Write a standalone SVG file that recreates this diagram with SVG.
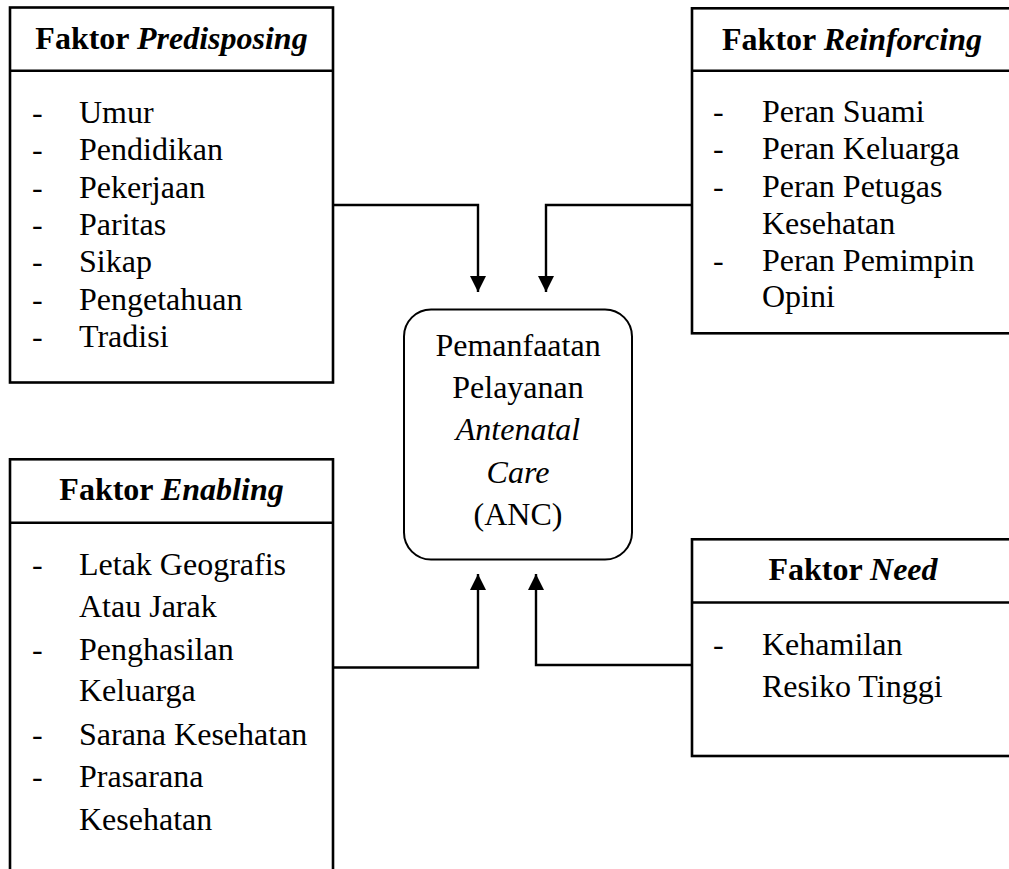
<svg xmlns="http://www.w3.org/2000/svg" width="1009" height="869" viewBox="0 0 1009 869">
<style>
.box{fill:#fff;stroke:#000;stroke-width:2.6}
.div{stroke:#000;stroke-width:2.6}
.t{font-family:"Liberation Serif","Times New Roman",serif;font-size:32px;fill:#000}
.h{font-weight:bold;text-anchor:middle}
.c{text-anchor:middle}
.i{font-style:italic}
.con{fill:none;stroke:#000;stroke-width:2.4}
</style>
<defs>
<marker id="arr" markerWidth="16" markerHeight="16" refX="16" refY="8" orient="auto" markerUnits="userSpaceOnUse" viewBox="0 0 16 16">
<path d="M0,0 L16,8 L0,16 Z" fill="#000"/>
</marker>
</defs>
<rect width="1009" height="869" fill="#fff"/>
<g id="connectors">
<polyline class="con" points="333,205 478,205 478,292" marker-end="url(#arr)"/>
<polyline class="con" points="692,205 546,205 546,292" marker-end="url(#arr)"/>
<polyline class="con" points="333,667.5 478,667.5 478,574" marker-end="url(#arr)"/>
<polyline class="con" points="692,665 536,665 536,574" marker-end="url(#arr)"/>
</g>
<g id="predisposing">
<rect class="box" x="10" y="7.5" width="323" height="375"/>
<line class="div" x1="10" y1="70.7" x2="333" y2="70.7"/>
<text class="t h" x="171.5" y="48.5">Faktor <tspan class="i">Predisposing</tspan></text>
<g class="t">
<text x="32" y="123">-</text><text x="79" y="123">Umur</text>
<text x="32" y="160.3">-</text><text x="79" y="160.3">Pendidikan</text>
<text x="32" y="197.6">-</text><text x="79" y="197.6">Pekerjaan</text>
<text x="32" y="235">-</text><text x="79" y="235">Paritas</text>
<text x="32" y="272">-</text><text x="79" y="272">Sikap</text>
<text x="32" y="309.5">-</text><text x="79" y="309.5">Pengetahuan</text>
<text x="32" y="347">-</text><text x="79" y="347">Tradisi</text>
</g>
</g>
<g id="reinforcing">
<rect class="box" x="692" y="8.3" width="330" height="325"/>
<line class="div" x1="692" y1="70.7" x2="1022" y2="70.7"/>
<text class="t h" x="852" y="50">Faktor <tspan class="i">Reinforcing</tspan></text>
<g class="t">
<text x="713" y="121.7">-</text><text x="762" y="121.7">Peran Suami</text>
<text x="713" y="159">-</text><text x="762" y="159">Peran Keluarga</text>
<text x="713" y="196.5">-</text><text x="762" y="196.5">Peran Petugas</text>
<text x="762" y="233.5">Kesehatan</text>
<text x="713" y="271">-</text><text x="762" y="271">Peran Pemimpin</text>
<text x="762" y="307">Opini</text>
</g>
</g>
<g id="anc">
<rect class="box" x="404" y="309.5" width="228" height="250" rx="27" ry="27" style="stroke-width:2"/>
<text class="t c" x="518" y="356">Pemanfaatan</text>
<text class="t c" x="518" y="398">Pelayanan</text>
<text class="t c i" x="518" y="440">Antenatal</text>
<text class="t c i" x="518" y="482.5">Care</text>
<text class="t c" x="518" y="525">(ANC)</text>
</g>
<g id="enabling">
<rect class="box" x="10" y="459.3" width="323" height="420"/>
<line class="div" x1="10" y1="522.7" x2="333" y2="522.7"/>
<text class="t h" x="171.5" y="500">Faktor <tspan class="i">Enabling</tspan></text>
<g class="t">
<text x="32" y="575">-</text><text x="79" y="575">Letak Geografis</text>
<text x="79" y="617">Atau Jarak</text>
<text x="32" y="660">-</text><text x="79" y="660">Penghasilan</text>
<text x="79" y="701">Keluarga</text>
<text x="32" y="745">-</text><text x="79" y="745">Sarana Kesehatan</text>
<text x="32" y="787">-</text><text x="79" y="787">Prasarana</text>
<text x="79" y="830">Kesehatan</text>
</g>
</g>
<g id="need">
<rect class="box" x="692" y="539.3" width="330" height="216.7"/>
<line class="div" x1="692" y1="602.5" x2="1022" y2="602.5"/>
<text class="t h" x="853" y="580">Faktor <tspan class="i">Need</tspan></text>
<g class="t">
<text x="713" y="655">-</text><text x="762" y="655">Kehamilan</text>
<text x="762" y="697">Resiko Tinggi</text>
</g>
</g>
</svg>
